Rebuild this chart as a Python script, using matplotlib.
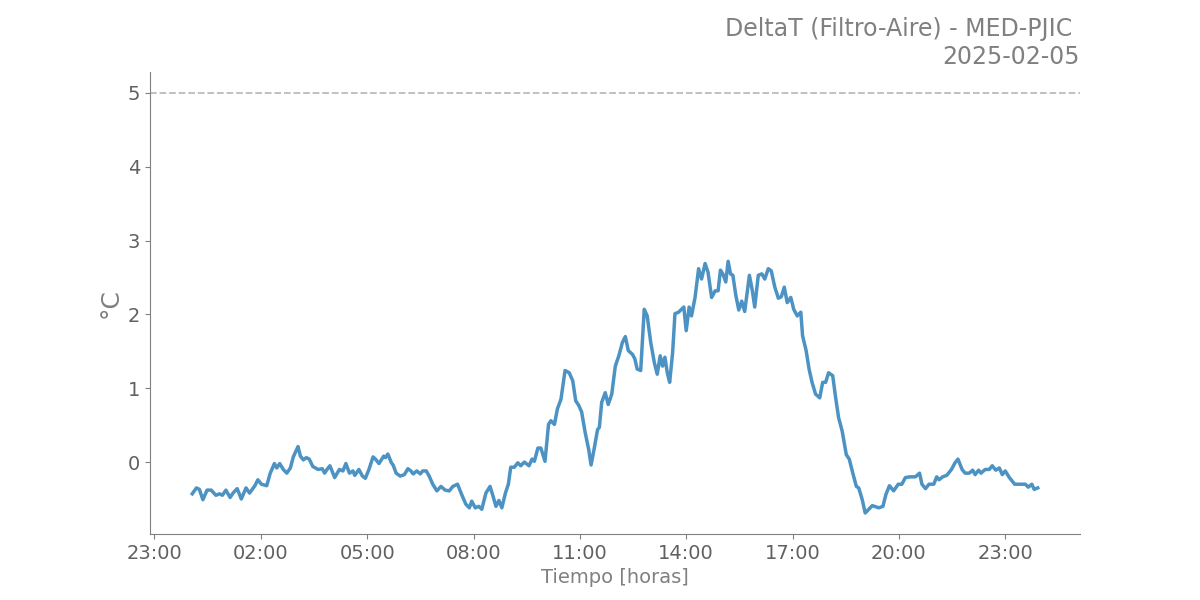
import datetime as dt
import matplotlib
matplotlib.use("Agg")
import matplotlib.pyplot as plt
import matplotlib.dates as mdates

# minutes after 00:00 of 2025-02-05, and DeltaT in °C
minutos = [4, 11, 16, 22, 29, 36, 44, 50, 55, 61, 68, 73, 80, 87, 95, 101, 110, 115, 121, 130,
           136, 143, 147, 152, 158, 164, 170, 175, 183, 187, 192, 197, 202, 208, 217, 224, 228, 232,
           237, 245, 253, 259, 264, 270, 276, 279, 286,
           292, 297, 303, 310, 314, 320, 328, 331, 335, 341, 344, 349, 356, 363, 369, 374, 378, 384,
           390, 394, 400, 405, 411, 418, 425, 432, 439, 445, 453, 461, 467, 473, 477, 483, 489, 494,
           501, 508, 513, 518, 523, 528, 534, 539, 543, 549, 555, 560, 566,
           574, 579, 583, 589, 594, 601, 607, 611, 617, 622, 628, 635, 642, 648, 653, 658, 663, 669,
           675, 679, 684, 690, 693, 697, 703, 708, 714, 720, 726, 732, 737, 742, 749, 753, 757, 763,
           769, 774, 780, 786, 791, 796, 800, 804, 808, 812, 817, 821, 827, 832, 836, 840, 845, 849, 855,
           861, 866, 872, 877, 883, 889, 894, 898, 902, 907, 911, 915, 919, 924, 929, 934, 939, 943,
           947, 952, 956, 962, 968, 973, 979, 984, 990, 996, 1001, 1006, 1011, 1017, 1022, 1028, 1034,
           1037, 1043, 1048, 1053, 1059, 1066, 1071, 1076, 1081, 1088, 1093, 1098, 1104, 1111, 1116,
           1122, 1128, 1132, 1138, 1143,
           1155, 1166, 1173, 1178, 1184, 1191, 1199, 1205, 1211, 1219, 1228, 1235, 1239, 1245, 1251,
           1259, 1264, 1268, 1274, 1281, 1289, 1295, 1300, 1307, 1312, 1319, 1325, 1329, 1335, 1339,
           1346, 1353, 1358, 1364, 1370, 1375, 1380, 1387, 1396, 1405, 1414, 1419, 1425, 1429, 1435]

delta_t = [-0.43, -0.35, -0.37, -0.51, -0.38, -0.38, -0.45, -0.43, -0.45, -0.38, -0.48, -0.42, -0.36, -0.50, -0.35, -0.42, -0.32, -0.24, -0.30, -0.32,
           -0.15, -0.02, -0.08, -0.02, -0.10, -0.15, -0.08, 0.07, 0.21, 0.08, 0.03, 0.06, 0.04, -0.06, -0.10, -0.09, -0.15, -0.10,
           -0.05, -0.21, -0.10, -0.12, -0.02, -0.15, -0.12, -0.18, -0.10,
           -0.19, -0.22, -0.10, 0.07, 0.04, -0.02, 0.08, 0.06, 0.11, -0.01, -0.04, -0.15, -0.19, -0.17, -0.09, -0.12, -0.16, -0.12,
           -0.16, -0.12, -0.12, -0.19, -0.30, -0.39, -0.33, -0.38, -0.39, -0.33, -0.30, -0.46, -0.57, -0.62, -0.53, -0.62, -0.60, -0.64,
           -0.42, -0.33, -0.46, -0.60, -0.52, -0.62, -0.42, -0.30, -0.07, -0.07, -0.01, -0.05, 0.00,
           -0.05, 0.04, 0.01, 0.19, 0.19, 0.01, 0.51, 0.56, 0.51, 0.72, 0.85, 1.24, 1.21, 1.10, 0.83, 0.77, 0.68, 0.40,
           0.17, -0.04, 0.17, 0.44, 0.47, 0.81, 0.94, 0.78, 0.92, 1.30, 1.44, 1.62, 1.70, 1.51, 1.46, 1.40, 1.26, 1.24,
           2.07, 1.98, 1.62, 1.35, 1.19, 1.44, 1.30, 1.42, 1.21, 1.08, 1.48, 2.01, 2.03, 2.07, 2.10, 1.78, 2.10, 1.98, 2.23,
           2.62, 2.48, 2.69, 2.57, 2.23, 2.32, 2.32, 2.60, 2.55, 2.44, 2.72, 2.55, 2.53, 2.26, 2.06, 2.18, 2.04, 2.28,
           2.53, 2.32, 2.10, 2.53, 2.55, 2.48, 2.62, 2.59, 2.37, 2.22, 2.24, 2.37, 2.16, 2.23, 2.07, 1.98, 2.03,
           1.71, 1.51, 1.26, 1.08, 0.92, 0.87, 1.08, 1.08, 1.21, 1.17, 0.87, 0.60, 0.42, 0.10, 0.04,
           -0.15, -0.33, -0.35, -0.51, -0.69,
           -0.59, -0.62, -0.60, -0.44, -0.32, -0.39, -0.30, -0.30, -0.21, -0.20, -0.20, -0.15, -0.30, -0.36, -0.30,
           -0.30, -0.20, -0.24, -0.20, -0.18, -0.10, -0.01, 0.04, -0.10, -0.15, -0.15, -0.11, -0.17, -0.11, -0.15,
           -0.10, -0.10, -0.05, -0.11, -0.08, -0.17, -0.12, -0.21, -0.30, -0.30, -0.30, -0.34, -0.30, -0.37, -0.35]

fecha = dt.datetime(2025, 2, 5)
limite = 5
tiempos = [fecha + dt.timedelta(minutes=m) for m in minutos]

gris = "#808080"
fig, ax = plt.subplots(figsize=(12, 6), dpi=100)

ax.plot(tiempos, delta_t, color="tab:blue", alpha=0.8, linewidth=2.5)
ax.axhline(limite, color="#bbbbbb", linestyle="--", linewidth=1.3)

ax.xaxis.set_major_locator(mdates.HourLocator(byhour=[2, 5, 8, 11, 14, 17, 20, 23]))
ax.xaxis.set_major_formatter(mdates.DateFormatter("%H:%M"))

ax.set_title("DeltaT (Filtro-Aire) - MED-PJIC \n2025-02-05", loc="right",
             fontsize=17, color=gris)
ax.set_xlabel("Tiempo [horas]", fontsize=14, color=gris)
ax.set_ylabel("°C", fontsize=18, color=gris)

for lado in ["top", "right"]:
    ax.spines[lado].set_visible(False)
for lado in ["left", "bottom"]:
    ax.spines[lado].set_color(gris)
ax.tick_params(colors=gris, labelsize=14, labelcolor="#606060")

plt.savefig("out.png")
